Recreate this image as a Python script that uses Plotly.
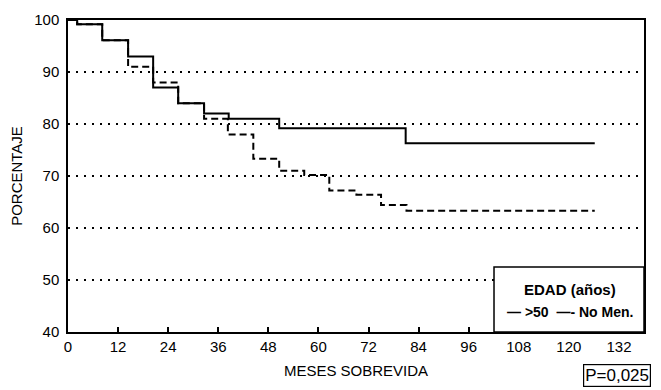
import plotly.graph_objects as go

# Data (months, survival %)
t_mayor50 = [0, 2.2, 8.2, 14.4, 20.4, 26.4, 32.6, 38.5, 50.6, 80.9, 126.2]
s_mayor50 = [100, 99.2, 96.1, 93.0, 87.0, 84.0, 82.0, 81.0, 79.2, 76.3, 76.3]

t_nomen = [0, 2.2, 8.2, 14.4, 20.4, 26.4, 32.6, 38.3, 44.4, 50.6, 56.6, 62.6, 69.1, 75.0, 81.1, 126.2]
s_nomen = [100, 99.2, 96.1, 91.0, 88.0, 84.0, 81.0, 78.0, 73.3, 71.0, 70.2, 67.2, 66.4, 64.4, 63.3, 63.3]

x_ticks = [0, 12, 24, 36, 48, 60, 72, 84, 96, 108, 120, 132]
y_ticks = [40, 50, 60, 70, 80, 90, 100]

FONT = "Liberation Sans, Arial, Helvetica, sans-serif"

fig = go.Figure()
fig.add_trace(go.Scatter(x=t_nomen, y=s_nomen, mode="lines", line_shape="hv",
                         line=dict(color="black", width=2, dash="7px,4px"), name="No Men."))
fig.add_trace(go.Scatter(x=t_mayor50, y=s_mayor50, mode="lines", line_shape="hv",
                         line=dict(color="black", width=2), name=">50"))

fig.update_layout(
    width=661, height=390,
    margin=dict(l=68, r=17, t=11, b=58),
    paper_bgcolor="white", plot_bgcolor="white",
    showlegend=False,
    font=dict(family=FONT, size=15, color="black"),
    xaxis=dict(range=[0, 138], tickvals=x_ticks, ticks="inside", ticklen=5, tickwidth=1.5,
               tickcolor="black", showgrid=False, zeroline=False,
               showline=True, linecolor="black", linewidth=1.5, mirror=True,
               title=dict(text="MESES SOBREVIDA", font=dict(size=15), standoff=12)),
    yaxis=dict(range=[40, 100], tickvals=y_ticks, ticks="", showgrid=True,
               gridcolor="black", gridwidth=1.5, griddash="2px,6px", zeroline=False,
               showline=True, linecolor="black", linewidth=1.5, mirror=True,
               ticklabelstandoff=4,
               title=dict(text="PORCENTAJE", font=dict(size=15), standoff=8)),
)

# Legend box
fig.add_shape(type="rect", xref="paper", yref="paper", x0=0.7396, x1=1.0, y0=0.0, y1=0.2087,
              line=dict(color="black", width=1.5), fillcolor="white", layer="above")
fig.add_annotation(xref="paper", yref="paper", x=0.8715, y=0.137, xanchor="center", yanchor="middle",
                   showarrow=False, text="<b>EDAD (años)</b>", font=dict(size=15))
fig.add_annotation(xref="paper", yref="paper", x=0.8715, y=0.0654, xanchor="center", yanchor="middle",
                   showarrow=False, text="<b>— >50  —- No Men.</b>", font=dict(size=14))

# P value box
fig.add_annotation(xref="paper", yref="paper", x=0.953, y=-0.140, xanchor="center", yanchor="middle",
                   showarrow=False, text="P=0,025", font=dict(size=17), bordercolor="black",
                   borderwidth=1.2, borderpad=1, bgcolor="white")

fig.write_html("out.html")
